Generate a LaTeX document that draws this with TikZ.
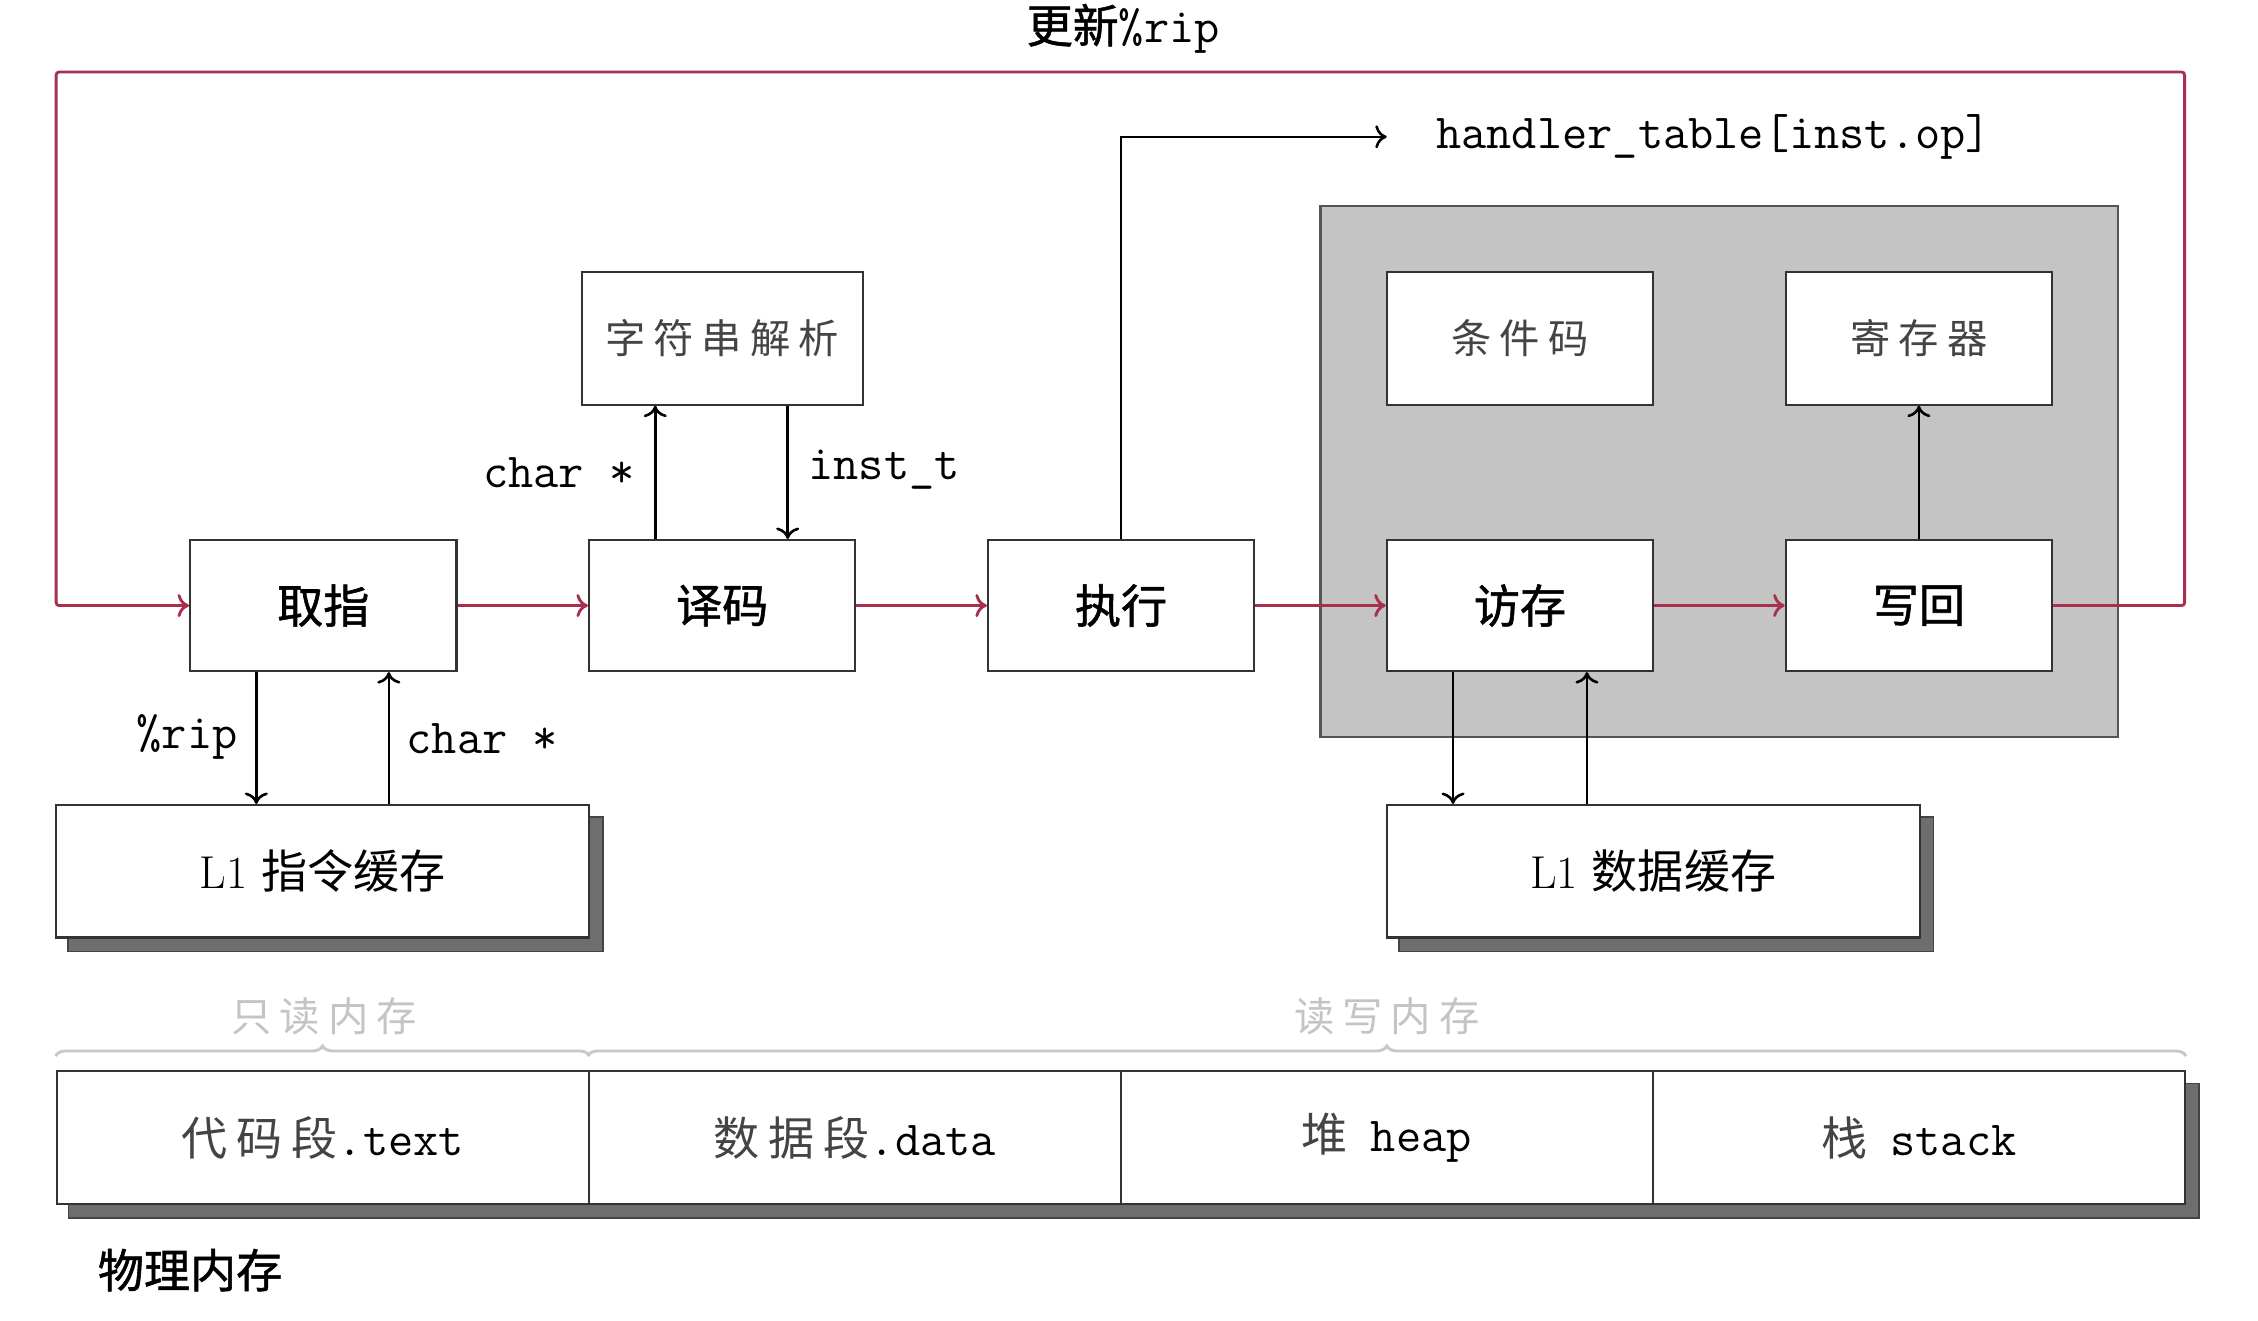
\documentclass[tikz,border=0pt]{standalone}
\usepackage{fontspec}
\newfontfamily\cjk{Noto Sans CJK SC}
\newfontfamily\cjkmid[FakeBold=1.2]{Noto Sans CJK SC}
\newfontfamily\cjkthin[LetterSpace=20]{Noto Sans CJK SC}
\usetikzlibrary{decorations.pathreplacing,backgrounds,arrows.meta}

\definecolor{flowred}{RGB}{168,48,78}
\definecolor{boxline}{HTML}{333333}
\definecolor{panelfill}{HTML}{C4C4C4}
\definecolor{paneledge}{HTML}{555555}
\definecolor{shadowfill}{HTML}{6E6E6E}
\definecolor{shadowedge}{HTML}{444444}
\definecolor{bracegray}{HTML}{C8C8C8}
\definecolor{auxtext}{HTML}{444444}
\definecolor{faint}{HTML}{C4C4C4}

\begin{document}
\begin{tikzpicture}[x=0.5pt,y=-0.5pt,
  tipstyle/.tip={Computer Modern Rightarrow[length=4pt,width=8pt]},
  stagebox/.style={draw=boxline,line width=0.7pt,fill=white,minimum width=92.5pt,
    minimum height=45.5pt,inner sep=0pt,font=\cjkmid\fontsize{16}{18}\selectfont},
  auxbox/.style={stagebox,font=\cjkthin\fontsize{14}{16}\selectfont,text=auxtext},
  cachebox/.style={draw=boxline,line width=0.7pt,fill=white,minimum width=185pt,
    minimum height=46pt,inner sep=0pt,font=\fontsize{16}{18}\selectfont},
  segbox/.style={draw=boxline,line width=0.7pt,fill=white,minimum width=184.75pt,
    minimum height=46pt,inner sep=0pt,font=\fontsize{16}{18}\selectfont},
  panelbox/.style={draw=paneledge,line width=0.8pt,fill=panelfill,inner sep=0pt},
  flowline/.style={draw=flowred,line width=1pt,-tipstyle},
  datalink/.style={draw=black,line width=0.9pt,-tipstyle},
  ttlabel/.style={font=\ttfamily\fontsize{17}{20}\selectfont,inner sep=0pt},
  grouplabel/.style={font=\cjkthin\fontsize{14}{16}\selectfont,text=faint,inner sep=0pt},
  memgroup/.style={draw=bracegray,line width=1pt,decorate,decoration={brace,amplitude=3.5pt}},
  shadowrect/.style={fill=shadowfill,draw=shadowedge,line width=0.6pt},
]
\useasboundingbox (0,0) rectangle (1568,917);

% execution-unit panel
\node[panelbox,minimum width=277pt,minimum height=184.5pt] (panel) at (1194,327.5) {};

% pipeline stages
\node[stagebox] (fetch)  at (224.5,420.5) {取指};
\node[stagebox] (decode) at (501.5,420.5) {译码};
\node[stagebox] (exec)   at (778.5,420.5) {执行};
\node[stagebox] (mem)    at (1055.5,420.5) {访存};
\node[stagebox] (wb)     at (1332.5,420.5) {写回};

% helper units
\node[auxbox,minimum width=97.5pt,minimum height=46pt] (parse) at (501.5,235) {字符串解析};
\node[auxbox,minimum height=46pt] (cc)  at (1055.5,235) {条件码};
\node[auxbox,minimum height=46pt] (reg) at (1332.5,235) {寄存器};

% caches
\node[cachebox] (l1i) at (224,605) {L1 {\cjk 指令缓存}};
\node[cachebox] (l1d) at (1148,605) {L1 {\cjk 数据缓存}};

% physical memory segments
\node[segbox] (seg1) at (224,790)    {{\cjkthin\color{auxtext}代码段}{\ttfamily\fontsize{17}{20}\selectfont .text}};
\node[segbox] (seg2) at (593.5,790)  {{\cjkthin\color{auxtext}数据段}{\ttfamily\fontsize{17}{20}\selectfont .data}};
\node[segbox] (seg3) at (963,790)    {{\cjkthin\color{auxtext}堆}\hspace{8pt}{\ttfamily\fontsize{17}{20}\selectfont heap}};
\node[segbox] (seg4) at (1332.5,790) {{\cjkthin\color{auxtext}栈}\hspace{8pt}{\ttfamily\fontsize{17}{20}\selectfont stack}};

% drop shadows
\begin{scope}[on background layer]
  \filldraw[shadowrect] ([shift={(4.5pt,-4.5pt)}]l1i.south west) rectangle ([shift={(4.5pt,-4.5pt)}]l1i.north east);
  \filldraw[shadowrect] ([shift={(4.5pt,-4.5pt)}]l1d.south west) rectangle ([shift={(4.5pt,-4.5pt)}]l1d.north east);
  \filldraw[shadowrect] ([shift={(4.5pt,-4.5pt)}]seg1.south west) rectangle ([shift={(4.5pt,-4.5pt)}]seg4.north east);
\end{scope}

% read-only / read-write braces
\draw[memgroup] ([yshift=5pt]seg1.north west) -- ([yshift=5pt]seg1.north east);
\draw[memgroup] ([yshift=5pt]seg2.north west) -- ([yshift=5pt]seg4.north east);
\node[grouplabel] (rolabel) at (225,706) {只读内存};
\node[grouplabel] (rwlabel) at (963,706) {读写内存};
\node[font=\cjkmid\fontsize{16}{18}\selectfont,inner sep=0pt] (physlabel) at (132,882) {物理内存};

% main pipeline flow
\coordinate (loopne) at (1517,50);
\coordinate (loopnw) at (39,50);
\draw[flowline] (fetch) -- (decode);
\draw[flowline] (decode) -- (exec);
\draw[flowline] (exec) -- (mem);
\draw[flowline] (mem) -- (wb);
\draw[flowline,rounded corners=1pt] (wb.east) -| (loopne) -- (loopnw) |- (fetch.west);
\node[font=\cjkmid\fontsize{16}{18}\selectfont,inner sep=0pt] (ripupdate) at (780,20)
  {更新{\ttfamily\fontsize{17}{20}\selectfont\%rip}};

% dispatch
\node[ttlabel,anchor=west] (handler) at (997,95) {handler\_table[inst.op]};
\draw[datalink] (exec.north) |- ([xshift=-17pt]handler.west);

% decode <-> string parser
\draw[datalink] ([xshift=-23.25pt]decode.north) -- ([xshift=-23.25pt]decode.north |- parse.south);
\draw[datalink] ([xshift=22.75pt]decode.north |- parse.south) -- ([xshift=22.75pt]decode.north);
\node[ttlabel] (lblchar) at (388,328) {char *};
\node[ttlabel] (lblinst) at (614,326) {inst\_t};

% fetch <-> instruction cache
\draw[datalink] ([xshift=-23.25pt]fetch.south) -- ([xshift=-23.25pt]fetch.south |- l1i.north);
\draw[datalink] ([xshift=22.75pt]fetch.south |- l1i.north) -- ([xshift=22.75pt]fetch.south);
\node[ttlabel] (lblrip) at (130,512) {\%rip};
\node[ttlabel] (lblcharb) at (335,513) {char *};

% memory access <-> data cache
\draw[datalink] ([xshift=-23.25pt]mem.south) -- ([xshift=-23.25pt]mem.south |- l1d.north);
\draw[datalink] ([xshift=23.25pt]mem.south |- l1d.north) -- ([xshift=23.25pt]mem.south);

% write back -> registers
\draw[datalink] (wb.north) -- (reg.south);
\end{tikzpicture}
\end{document}
